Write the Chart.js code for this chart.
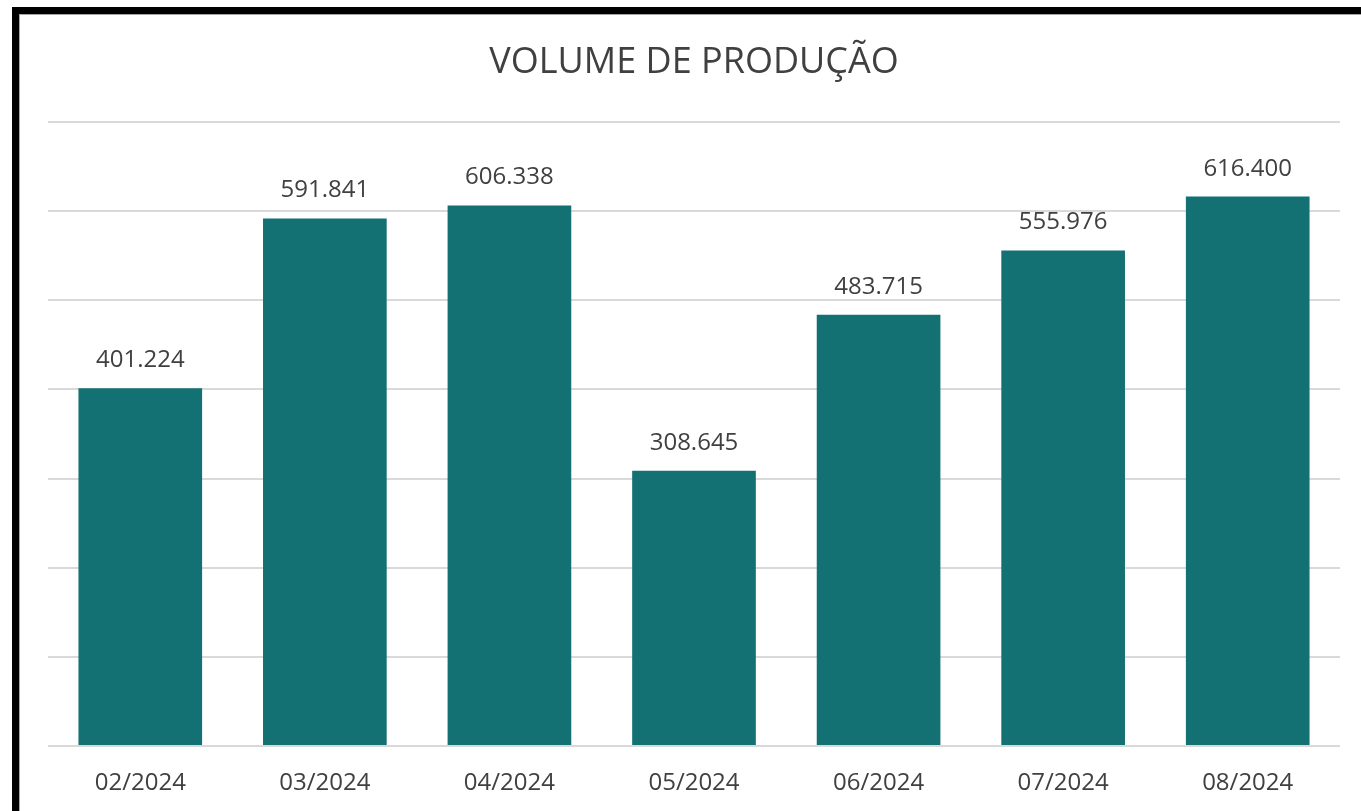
<!DOCTYPE html>
<html>
<head>
<meta charset="utf-8">
<script src="https://cdn.jsdelivr.net/npm/chart.js@4.4.1/dist/chart.umd.min.js"></script>
<style>
  html, body { margin: 0; padding: 0; background: #fff; }
  body { width: 1361px; height: 811px; position: relative; overflow: hidden; }
  .frame {
    position: absolute; left: 12px; top: 7px; right: 0; bottom: 0;
    border-top: 7px solid #000; border-left: 7px solid #000;
  }
  .frame::after {
    content: ''; position: absolute; left: 0; top: 0; right: 0; bottom: 0;
    border-top: 1px solid #a6a6a6; border-left: 1px solid #a6a6a6;
  }
  #chart { position: absolute; left: 0; top: 0; }
</style>
</head>
<body>
<div class="frame"></div>
<canvas id="chart" width="1361" height="811"></canvas>
<script>
/* ═══════════════════════════════════════════════
   VOLUME DE PRODUÇÃO
═══════════════════════════════════════════════ */
const TITLE = 'VOLUME DE PRODUÇÃO';
const months = ['02/2024', '03/2024', '04/2024', '05/2024', '06/2024', '07/2024', '08/2024'];
const volumes = [401224, 591841, 606338, 308645, 483715, 555976, 616400];

const TEXT = '#404040';
const FONT = "'Open Sans', 'Noto Sans', sans-serif";

function fmt(n) { return String(Math.round(n)).replace(/\B(?=(\d{3})+(?!\d))/g, '.'); }

// Title + value labels drawn on the canvas
const labelsPlugin = {
  id: 'labels',
  afterDatasetsDraw(chart) {
    const ctx = chart.ctx;
    ctx.save();
    ctx.fillStyle = TEXT;
    ctx.textAlign = 'center';
    ctx.textBaseline = 'alphabetic';

    ctx.font = '36px ' + FONT;
    ctx.fillText(TITLE, 694, 73);

    ctx.font = '24px ' + FONT;
    chart.getDatasetMeta(0).data.forEach((bar, i) => {
      ctx.fillText(fmt(volumes[i]), bar.x, bar.y - 21);
    });
    ctx.restore();
  }
};

new Chart(document.getElementById('chart'), {
  type: 'bar',
  data: {
    labels: months,
    datasets: [{
      data: volumes,
      backgroundColor: '#137073',
      barPercentage: 0.67,
      categoryPercentage: 1
    }]
  },
  options: {
    responsive: false,
    animation: false,
    layout: { padding: { left: 48, right: 21, top: 122, bottom: 0 } },
    plugins: {
      legend: { display: false },
      title: { display: false },
      tooltip: { enabled: false }
    },
    scales: {
      x: {
        grid: { display: false },
        border: { display: false },
        ticks: { color: TEXT, font: { size: 24, family: FONT }, padding: 15, maxRotation: 0 },
        afterFit: s => { s.height = 65; }
      },
      y: {
        min: 0,
        max: 700000,
        ticks: { display: false, stepSize: 100000 },
        grid: { color: '#d9d9d9', lineWidth: 2, drawTicks: false },
        border: { display: false },
        afterFit: s => { s.width = 0; }
      }
    }
  },
  plugins: [labelsPlugin]
});
</script>
</body>
</html>
